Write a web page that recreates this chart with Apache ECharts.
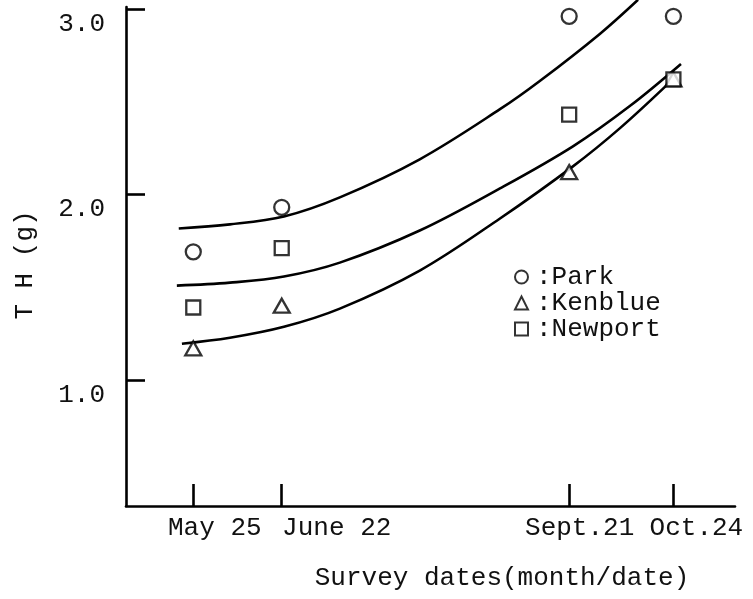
<!DOCTYPE html>
<html>
<head>
<meta charset="utf-8">
<script src="https://cdn.jsdelivr.net/npm/echarts@6/dist/echarts.min.js"></script>
<style>html,body{margin:0;padding:0;background:#fff}#c{width:753px;height:599px}</style>
</head>
<body>
<div id="c"></div>
<script>
// Survey dates as day-of-year
const surveyDays = [145, 173, 264, 297];
const xTickLabels = ['May 25', 'June 22', 'Sept.21', 'Oct.24'];
const yTicks = [1, 2, 3];
const seriesNames = ['Park', 'Kenblue', 'Newport'];

// Observed TH (g)
const parkValues = [1.69, 1.93, 2.96, 2.96];
const kenblueValues = [1.17, 1.40, 2.12, 2.62];
const newportValues = [1.39, 1.71, 2.43, 2.62];

// Fitted curves
const parkCurveX = [140.4, 156.6, 173.7, 191.4, 216.7, 242.1, 254.7, 273.7, 285.8];
const parkCurveY = [1.816, 1.838, 1.881, 1.984, 2.189, 2.459, 2.611, 2.865, 3.049];
const newportCurveX = [139.8, 156.6, 173.7, 191.4, 216.7, 242.1, 265.2, 283.2, 299.4];
const newportCurveY = [1.508, 1.524, 1.557, 1.632, 1.805, 2.032, 2.259, 2.476, 2.703];
const kenblueCurveX = [141.4, 156.6, 173.7, 191.4, 216.7, 242.1, 265.2, 280.1, 295.9];
const kenblueCurveY = [1.195, 1.227, 1.286, 1.384, 1.589, 1.870, 2.151, 2.357, 2.605];

const FONT = '"Liberation Mono", "DejaVu Sans Mono", monospace';
const pair = (xs, ys) => xs.map((x, i) => [x, ys[i]]);

const markerStyle = { color: '#fff', borderColor: '#000', borderWidth: 2.3 };
const curveStyle = { color: '#000', width: 2.6 };

const chart = echarts.init(document.getElementById('c'), null, { renderer: 'canvas' });
chart.setOption({
  animation: false,
  backgroundColor: '#fff',
  grid: { left: 126, right: 18, top: 7, bottom: 93, containLabel: false },
  xAxis: {
    type: 'value',
    min: 123.7,
    max: 316.5,
    splitLine: { show: false },
    axisLine: { show: true, lineStyle: { color: '#000', width: 2.6 } },
    axisTick: { show: true, inside: true, length: 22, customValues: surveyDays, lineStyle: { color: '#000', width: 2.6 } },
    axisLabel: {
      customValues: surveyDays,
      margin: 9,
      fontFamily: FONT, fontSize: 26, color: '#111',
      formatter: function (v) {
        const i = surveyDays.indexOf(v);
        const keys = ['a', 'b', 'c', 'd'];
        return i >= 0 ? '{' + keys[i] + '|' + xTickLabels[i] + '}' : '';
      },
      rich: {
        a: { fontFamily: FONT, fontSize: 26, color: '#111', padding: [0, 0, 0, 43] },
        b: { fontFamily: FONT, fontSize: 26, color: '#111', padding: [0, 0, 0, 110] },
        c: { fontFamily: FONT, fontSize: 26, color: '#111', padding: [0, 0, 0, 21] },
        d: { fontFamily: FONT, fontSize: 26, color: '#111', padding: [0, 0, 0, 46] }
      }
    },
    name: 'Survey dates(month/date)',
    nameLocation: 'middle',
    nameGap: 59,
    nameTextStyle: { fontFamily: FONT, fontSize: 26, color: '#111', padding: [0, 0, 0, 143] }
  },
  yAxis: {
    type: 'value',
    min: 0.32,
    max: 3.01,
    splitLine: { show: false },
    axisLine: { show: true, lineStyle: { color: '#000', width: 2.6 } },
    axisTick: { show: true, inside: true, length: 19, customValues: yTicks, lineStyle: { color: '#000', width: 2.6 } },
    axisLabel: {
      customValues: yTicks,
      margin: 21,
      fontFamily: FONT, fontSize: 26, color: '#111',
      verticalAlign: 'top',
      lineHeight: 30,
      formatter: v => v.toFixed(1)
    },
    name: 'T H (g)',
    nameLocation: 'middle',
    nameRotate: 90,
    nameGap: 88,
    nameTextStyle: { fontFamily: FONT, fontSize: 26, color: '#111', padding: [0, 17, 0, 0] }
  },
  legend: {
    data: seriesNames,
    orient: 'vertical',
    left: 509,
    top: 259,
    itemWidth: 13,
    itemHeight: 13,
    itemGap: 0,
    formatter: n => ':' + n,
    textStyle: { fontFamily: FONT, fontSize: 26, color: '#111', padding: [0, 0, 0, 3] }
  },
  series: [
    { type: 'line', name: 'ParkCurve', data: pair(parkCurveX, parkCurveY), smooth: 0.35, showSymbol: false, clip: false, lineStyle: curveStyle, silent: true },
    { type: 'line', name: 'NewportCurve', data: pair(newportCurveX, newportCurveY), smooth: 0.35, showSymbol: false, lineStyle: curveStyle, silent: true },
    { type: 'line', name: 'KenblueCurve', data: pair(kenblueCurveX, kenblueCurveY), smooth: 0.35, showSymbol: false, lineStyle: curveStyle, silent: true },
    { type: 'scatter', name: 'Park', data: pair(surveyDays, parkValues), symbol: 'circle', symbolSize: 15, itemStyle: markerStyle, z: 5 },
    { type: 'scatter', name: 'Kenblue', data: pair(surveyDays, kenblueValues), symbol: 'triangle', symbolSize: [16, 14], itemStyle: markerStyle, z: 5 },
    { type: 'scatter', name: 'Newport', data: pair(surveyDays, newportValues), symbol: 'rect', symbolSize: 14, itemStyle: markerStyle, z: 5 }
  ]
});
</script>
</body>
</html>
